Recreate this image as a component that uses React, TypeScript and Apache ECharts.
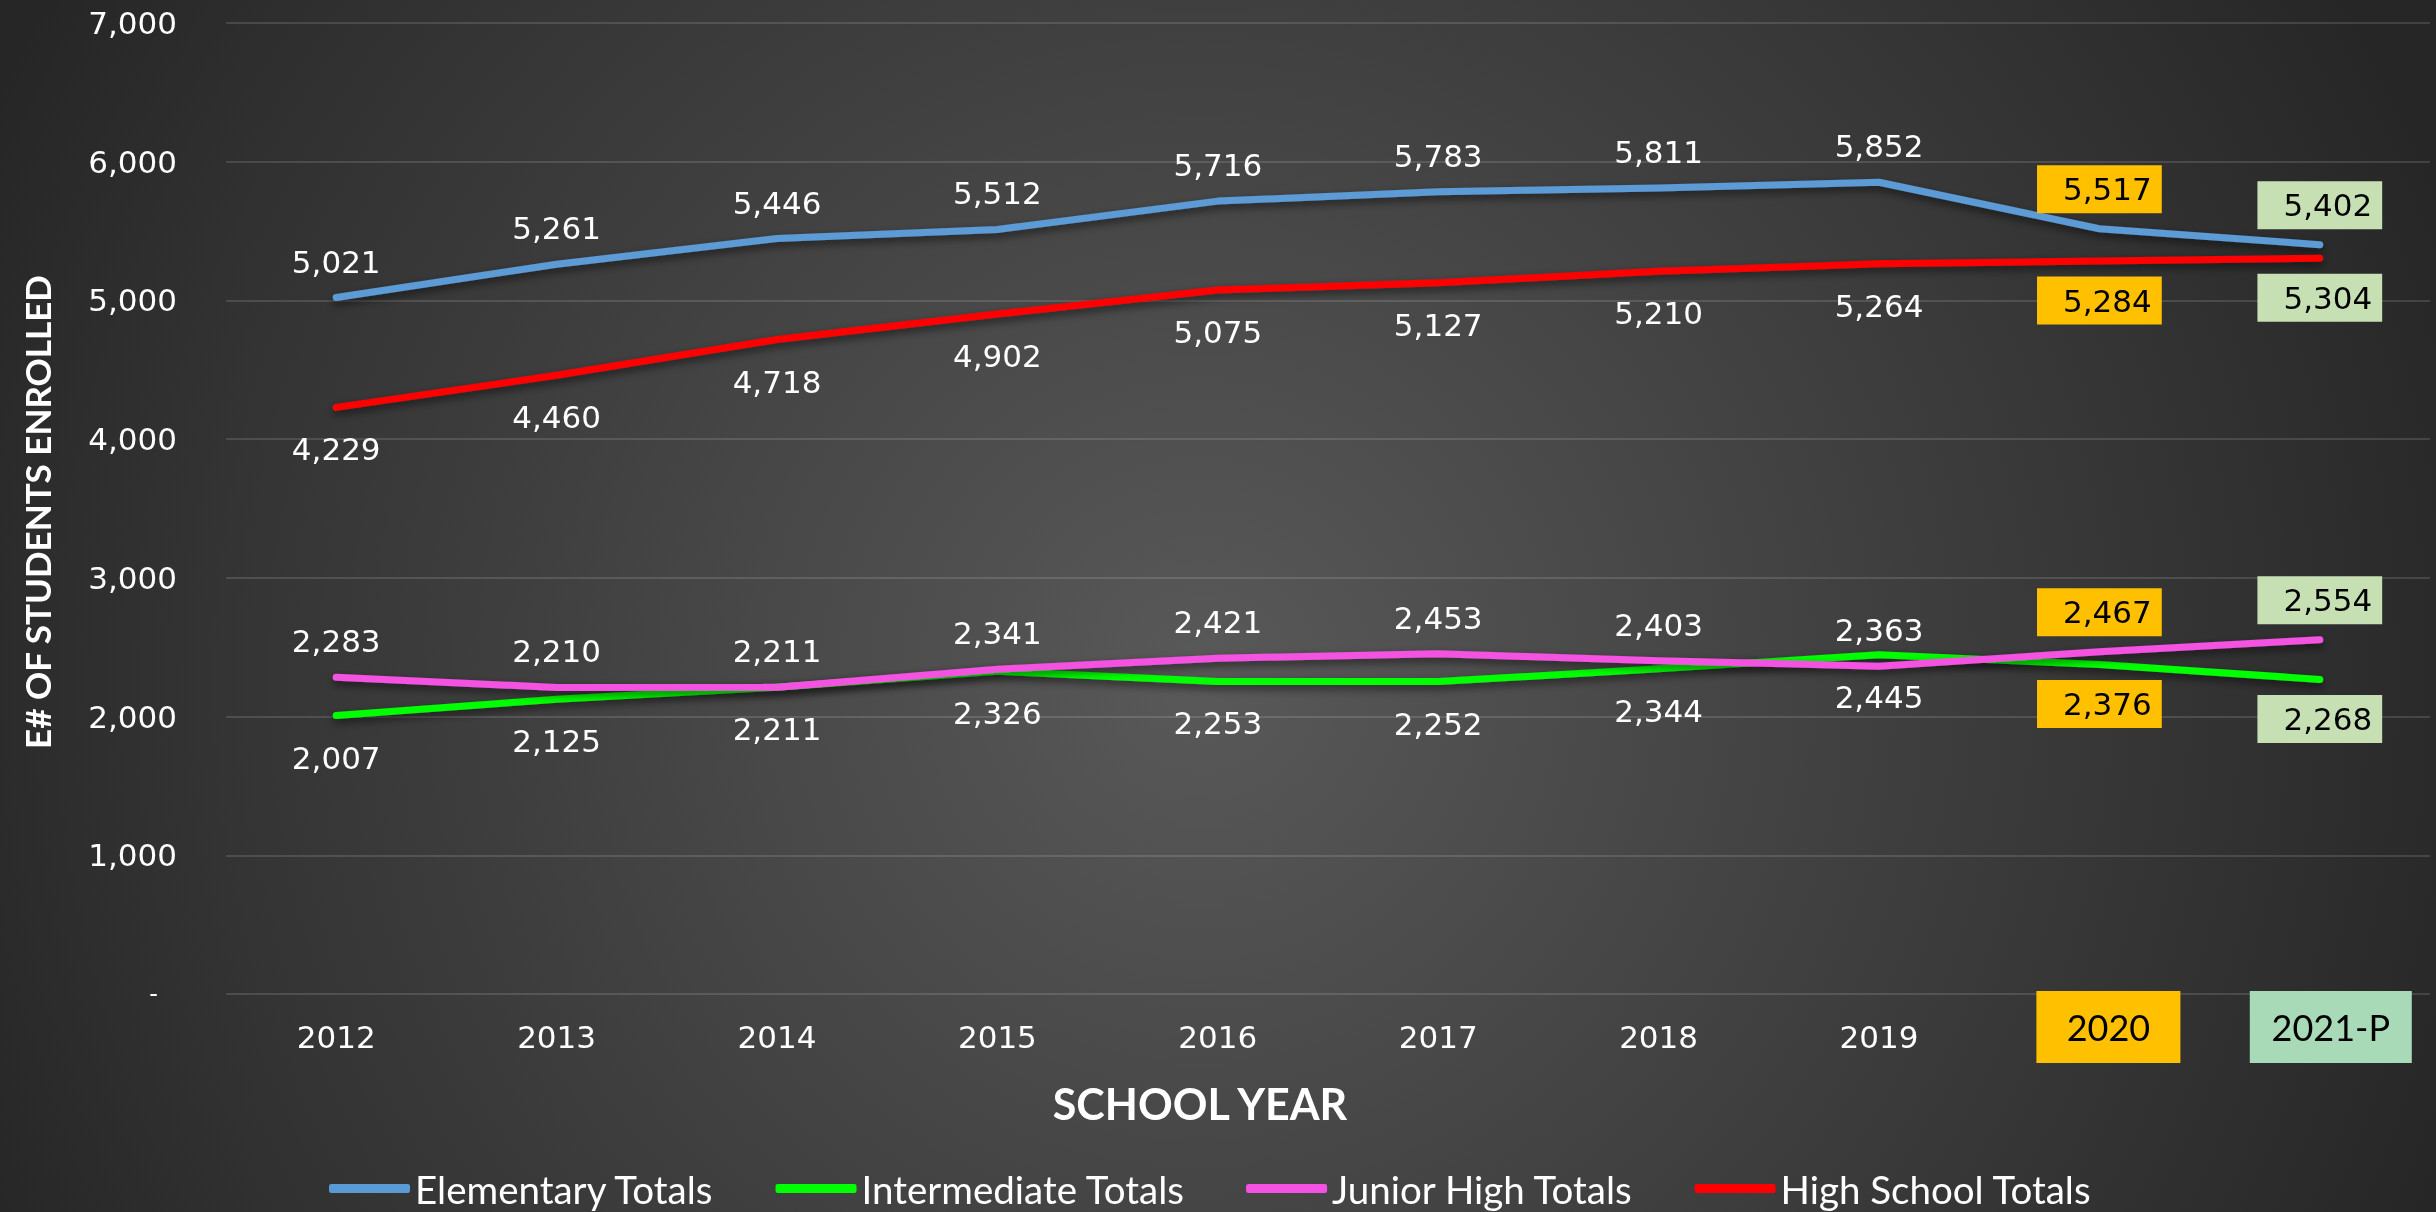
import React, { useEffect, useRef } from "react";
import * as echarts from "echarts";

const categories = ["2012", "2013", "2014", "2015", "2016", "2017", "2018", "2019", "2020", "2021-P"];
const elementary = [5021, 5261, 5446, 5512, 5716, 5783, 5811, 5852, 5517, 5402];
const intermediate = [2007, 2125, 2211, 2326, 2253, 2252, 2344, 2445, 2376, 2268];
const juniorHigh = [2283, 2210, 2211, 2341, 2421, 2453, 2403, 2363, 2467, 2554];
const highSchool = [4229, 4460, 4718, 4902, 5075, 5127, 5210, 5264, 5284, 5304];
const seriesNames = ["Elementary Totals", "Intermediate Totals", "Junior High Totals", "High School Totals"];
const seriesColors = ["#5B9BD5", "#00FF00", "#F452E2", "#FF0000"];

const NUM_FONT = "DejaVu Sans";
const fmt = (v: number) => Number(v).toLocaleString("en-US");

function boxLabel(bg: string) {
  return {
    show: true,
    color: "#000",
    backgroundColor: bg,
    padding: [7, 10, 7, 26],
    lineHeight: 34,
    distance: 15,
  };
}

function makeData(values: number[]) {
  return values.map((v, i) => {
    if (i === 8) return { value: v, label: boxLabel("#FFC000") };
    if (i === 9) return { value: v, label: boxLabel("#C6E0B4") };
    return v;
  });
}

function makeSeries(name: string, values: number[], color: string, pos: "top" | "bottom") {
  return {
    name,
    type: "line",
    data: makeData(values),
    symbol: "circle",
    symbolSize: 1,
    itemStyle: { color },
    lineStyle: {
      color,
      width: 7,
      cap: "round",
      join: "round",
      shadowColor: "rgba(0,0,0,0.55)",
      shadowBlur: 8,
      shadowOffsetY: 4,
    },
    label: {
      show: true,
      position: pos,
      distance: pos === "top" ? 20 : 26,
      color: "#ffffff",
      fontFamily: NUM_FONT,
      fontSize: 31,
      formatter: (p: any) => fmt(p.value),
    },
    emphasis: { disabled: true },
  };
}

export default function App() {
  const ref = useRef<HTMLDivElement>(null);
  useEffect(() => {
    if (!ref.current) return;
    const chart = echarts.init(ref.current, undefined, { renderer: "svg" });
    const option: any = {
      animation: false,
      graphic: [
        {
          type: "rect",
          z: -100,
          silent: true,
          shape: { x: 0, y: 0, width: 2436, height: 1212 },
          style: {
            fill: new echarts.graphic.RadialGradient(
              1200,
              680,
              1340,
              [
                { offset: 0, color: "#595959" },
                { offset: 1, color: "#262626" },
              ],
              true
            ),
          },
        },
        {
          type: "text",
          x: 37,
          y: 512,
          rotation: Math.PI / 2,
          style: {
            text: "E# OF STUDENTS ENROLLED",
            fill: "#ffffff",
            font: "bold 35px Lato",
            align: "center",
            verticalAlign: "middle",
          },
        },
        {
          type: "text",
          x: 1200,
          y: 1103,
          style: {
            text: "SCHOOL YEAR",
            fill: "#ffffff",
            font: "bold 43px Lato",
            align: "center",
            verticalAlign: "middle",
          },
        },
      ],
      grid: { left: 226, right: 6, top: 23, bottom: 218, containLabel: false },
      legend: {
        data: seriesNames,
        left: 324,
        top: 1164,
        itemGap: 61,
        itemWidth: 81,
        itemHeight: 9,
        icon: "roundRect",
        textStyle: { color: "#ffffff", fontFamily: "Lato", fontSize: 38.5 },
      },
      xAxis: {
        type: "category",
        data: categories,
        boundaryGap: true,
        axisLine: { show: false },
        axisTick: { show: false },
        splitLine: { show: false },
        axisLabel: {
          interval: 0,
          margin: 43,
          verticalAlign: "middle",
          color: "#ffffff",
          fontFamily: NUM_FONT,
          fontSize: 31,
          formatter: (v: string, i: number) => {
            if (i === 8) return "{sp8| }{b20|" + v + "}\n{gap| }";
            if (i === 9) return "{sp9| }{b21|" + v + "}\n{gap| }";
            return v;
          },
          rich: {
            sp8: { width: 18, fontSize: 10 },
            sp9: { width: 22, fontSize: 10 },
            gap: { height: 20, lineHeight: 20, fontSize: 10 },
            b20: {
              fontFamily: "Lato",
              fontSize: 36,
              color: "#000",
              backgroundColor: "#FFC000",
              width: 144,
              height: 72,
              lineHeight: 72,
              align: "center",
            },
            b21: {
              fontFamily: "Lato",
              fontSize: 36,
              color: "#000",
              backgroundColor: "#A9DAB8",
              width: 162,
              height: 72,
              lineHeight: 72,
              align: "center",
            },
          },
        },
      },
      yAxis: {
        type: "value",
        min: 0,
        max: 7000,
        interval: 1000,
        axisLine: { show: false },
        axisTick: { show: false },
        splitLine: { lineStyle: { color: "rgba(255,255,255,0.13)", width: 2 } },
        axisLabel: {
          margin: 49,
          color: "#ffffff",
          fontFamily: NUM_FONT,
          fontSize: 31,
          formatter: (v: number) => (v === 0 ? "{d|-}" : fmt(v)),
          rich: {
            d: { color: "#ffffff", fontFamily: NUM_FONT, fontSize: 24, padding: [0, 19, 0, 0] },
          },
        },
      },
      series: [
        makeSeries(seriesNames[0], elementary, seriesColors[0], "top"),
        makeSeries(seriesNames[1], intermediate, seriesColors[1], "bottom"),
        makeSeries(seriesNames[2], juniorHigh, seriesColors[2], "top"),
        makeSeries(seriesNames[3], highSchool, seriesColors[3], "bottom"),
      ],
    };
    chart.setOption(option);
    return () => chart.dispose();
  }, []);
  return (
    <div
      ref={ref}
      style={{ position: "fixed", left: 0, top: 0, width: 2436, height: 1212 }}
    />
  );
}
